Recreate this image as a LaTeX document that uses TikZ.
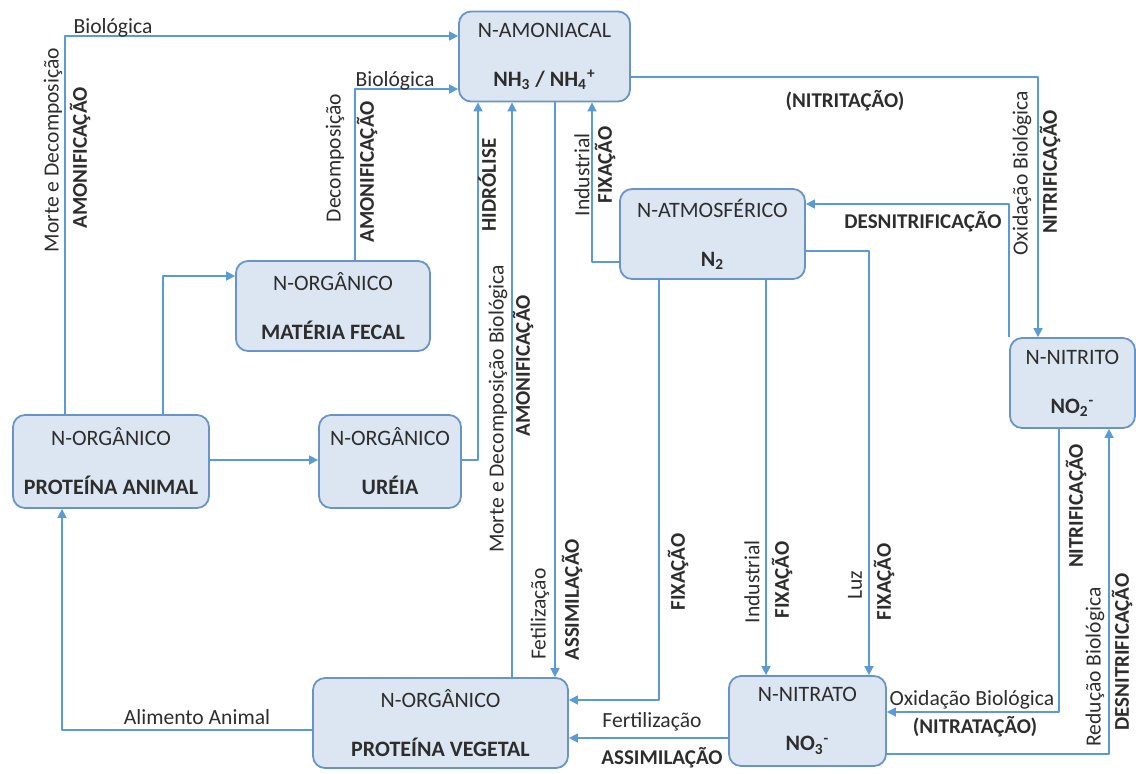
\documentclass[tikz,border=0pt]{standalone}
\usepackage{fontspec}
\setmainfont{Carlito}
\usetikzlibrary{arrows.meta}
\definecolor{boxfill}{RGB}{220,230,242}
\definecolor{boxline}{RGB}{104,148,200}
\definecolor{flowline}{RGB}{91,155,213}
\definecolor{txt}{RGB}{45,45,45}
\begin{document}
\begin{tikzpicture}[x=0.5pt, y=-0.5pt, line join=round,
		box/.style={draw=boxline, fill=boxfill, line width=0.9pt, rounded corners=6pt, align=center, text=txt, inner sep=0pt, minimum height=45pt, font=\fontsize{11}{24.5}\selectfont},
		flow/.style={draw=flowline, line width=0.8pt, -{Triangle[length=4.5pt,width=4.5pt]}},
		lab/.style={text=txt, inner sep=0.5pt, font=\fontsize{10.8}{12}\selectfont},
		blab/.style={lab, font=\fontsize{10.5}{12}\selectfont\bfseries},
		vlab/.style={lab, rotate=90},
		vblab/.style={blab, rotate=90}]
	\useasboundingbox (0,0) rectangle (1136,773);
	\node[box, minimum width=85.5pt] (amon) at (544.5,56.5) {N-AMONIACAL\\\textbf{NH\textsubscript{3} / NH\textsubscript{4}\textsuperscript{+}}};
	\node[box, minimum width=92.5pt] (atm) at (712.5,234) {N-ATMOSFÉRICO\\\textbf{N\textsubscript{2}}};
	\node[box, minimum width=97pt] (fecal) at (333,306) {N-ORGÂNICO\\\textbf{MATÉRIA FECAL}};
	\node[box, minimum width=62.5pt] (nitrito) at (1072.5,383) {N-NITRITO\\\textbf{NO\textsubscript{2}\textsuperscript{-}}};
	\node[box, minimum width=98pt, minimum height=46.5pt] (animal) at (111,461.5) {N-ORGÂNICO\\\textbf{PROTEÍNA ANIMAL}};
	\node[box, minimum width=71pt, minimum height=46.5pt] (ureia) at (390,461.5) {N-ORGÂNICO\\\textbf{URÉIA}};
	\node[box, minimum width=127.5pt] (vegetal) at (440.5,723) {N-ORGÂNICO\\\textbf{PROTEÍNA VEGETAL}};
	\node[box, minimum width=78.5pt] (nitrato) at (807.5,721) {N-NITRATO\\\textbf{NO\textsubscript{3}\textsuperscript{-}}};

	\draw[flow] (animal.north -| 65,0) |- (amon.west |- 0,36);
	\draw[flow] (fecal.north -| 355,0) |- (amon.west |- 0,89);
	\draw[flow] (animal.north -| 163,0) |- (fecal.west |- 0,276);
	\draw[flow] (animal.east |- 0,460) -- (ureia.west |- 0,460);
	\draw[flow] (ureia.east |- 0,460) -| (amon.south -| 478,0);
	\draw[flow] (vegetal.north -| 512,0) -- (amon.south -| 512,0);
	\draw[flow] (amon.south -| 555,0) -- (vegetal.north -| 555,0);
	\draw[flow] (atm.west |- 0,262) -| (amon.south -| 592,0);
	\draw[flow] (amon.east |- 0,77) -| (nitrito.north -| 1038,0);
	\draw[flow] (nitrito.north west) |- (atm.east |- 0,204);
	\draw[flow] (atm.east |- 0,251) -| (nitrato.north -| 869,0);
	\draw[flow] (atm.south -| 766,0) -- (nitrato.north -| 766,0);
	\draw[flow] (atm.south -| 659,0) |- (vegetal.east |- 0,700);
	\draw[flow] (nitrito.south -| 1059,0) |- (nitrato.east |- 0,712);
	\draw[flow] (nitrato.east |- 0,754) -| (nitrito.south -| 1109,0);
	\draw[flow] (vegetal.west |- 0,730) -| (animal.south -| 62,0);
	\draw[flow] (nitrato.west |- 0,738) -- (vegetal.east |- 0,738);

	\node[lab] (lbio1) at (113,28) {Biológica};
	\node[vlab] (lmorte1) at (53,150) {Morte e Decomposição};
	\node[vblab] (lamon1) at (80,158) {AMONIFICAÇÃO};
	\node[lab] (lbio2) at (395,81) {Biológica};
	\node[vlab] (ldecomp) at (335,158) {Decomposição};
	\node[vblab] (lamon2) at (367,172) {AMONIFICAÇÃO};
	\node[vblab] (lhidro) at (487,185) {HIDRÓLISE};
	\node[vlab] (lmorte2) at (498,409) {Morte e Decomposição Biológica};
	\node[vblab] (lamon3) at (523,366) {AMONIFICAÇÃO};
	\node[vlab] (lfert1) at (540,614) {Fetilização};
	\node[vblab] (lassim1) at (572,600) {ASSIMILAÇÃO};
	\node[vlab] (lind1) at (582,175) {Industrial};
	\node[vblab] (lfix1) at (605,165) {FIXAÇÃO};
	\node[blab] (lnitrit) at (845,101) {(NITRITAÇÃO)};
	\node[vlab] (loxid1) at (1022,173) {Oxidação Biológica};
	\node[vblab] (lnitrif1) at (1050,172) {NITRIFICAÇÃO};
	\node[blab] (ldesn1) at (923,222) {DESNITRIFICAÇÃO};
	\node[vblab] (lfix2) at (678,572) {FIXAÇÃO};
	\node[vlab] (lind2) at (752,582) {Industrial};
	\node[vblab] (lfix3) at (782,580) {FIXAÇÃO};
	\node[vlab] (lluz) at (855,585) {Luz};
	\node[vblab] (lfix4) at (884,582) {FIXAÇÃO};
	\node[lab] (loxid2) at (972,700) {Oxidação Biológica};
	\node[blab] (lnitrat) at (975,727) {(NITRATAÇÃO)};
	\node[vblab] (lnitrif2) at (1076,506) {NITRIFICAÇÃO};
	\node[vlab] (lreduc) at (1095,667) {Redução Biológica};
	\node[vblab] (ldesn2) at (1122,652) {DESNITRIFICAÇÃO};
	\node[lab] (lalim) at (197,717) {Alimento Animal};
	\node[lab] (lfert2) at (652,722) {Fertilização};
	\node[blab] (lassim2) at (662,758) {ASSIMILAÇÃO};
\end{tikzpicture}
\end{document}
